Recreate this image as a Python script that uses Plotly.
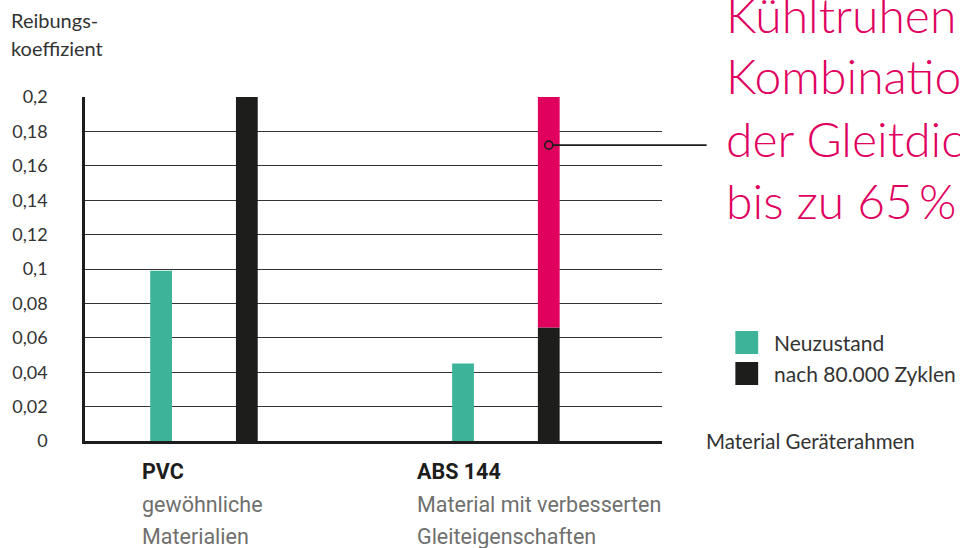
import plotly.graph_objects as go

categories = ["PVC", "ABS 144"]
neuzustand = [0.099, 0.045]
nach_zyklen = [0.2, 0.066]
reduktion = [0, 0.134]
marker_value = 0.172

y_ticks = [0, 0.02, 0.04, 0.06, 0.08, 0.1, 0.12, 0.14, 0.16, 0.18, 0.2]
y_tick_text = ["0", "0,02", "0,04", "0,06", "0,08", "0,1", "0,12", "0,14", "0,16", "0,18", "0,2"]

sub_labels = [["gewöhnliche", "Materialien"], ["Material mit verbesserten", "Gleiteigenschaften"]]
callout_lines = ["Kühltruhen", "Kombination", "der Gleitdichtung", "bis zu 65\u2009%"]
legend_names = ["Neuzustand", "nach 80.000 Zyklen"]

TEAL = "#3DB49A"
BLACK = "#1D1D1B"
MAGENTA = "#E0005E"
FONT = "Lato, 'Open Sans', sans-serif"
NARROW = "'Liberation Sans Narrow', 'Roboto', sans-serif"

BARGAP = 0.432
slot = (1 - BARGAP) / 2

fig = go.Figure()
fig.add_trace(go.Bar(x=categories, y=neuzustand, name=legend_names[0], marker_color=TEAL,
                     offsetgroup="a", marker_line_width=0))
fig.add_trace(go.Bar(x=categories, y=nach_zyklen, name=legend_names[1], marker_color=BLACK,
                     offsetgroup="b", marker_line_width=0))
fig.add_trace(go.Bar(x=categories, y=reduktion, base=nach_zyklen, name="Reduktion",
                     marker_color=MAGENTA, offsetgroup="b", marker_line_width=0))

fig.update_layout(
    width=960, height=548,
    margin=dict(l=80, r=298, t=97, b=107),
    paper_bgcolor="white", plot_bgcolor="white",
    barmode="group", bargap=BARGAP, bargroupgap=0.746,
    showlegend=False,
    font=dict(family=FONT, color="#333333", size=17),
)
fig.update_xaxes(range=[-0.394, 1.517], showticklabels=False, showgrid=False,
                 showline=True, linecolor=BLACK, linewidth=3, zeroline=False, ticks="")
fig.update_yaxes(range=[0, 0.2], tickvals=y_ticks, ticktext=y_tick_text,
                 showgrid=True, gridcolor="#333333", gridwidth=1.3,
                 showline=True, linecolor=BLACK, linewidth=2.5, zeroline=False,
                 ticks="", ticklabelstandoff=31,
                 tickfont=dict(family=FONT, size=18, color="#333333"))

# callout line + circle on ABS reduction bar
xb = 1 + slot / 2
fig.add_shape(type="line", xref="paper", yref="y", x0=(552 - 80) / 582, x1=(707 - 80) / 582,
              y0=marker_value, y1=marker_value, line=dict(color=BLACK, width=1.6), layer="above")
fig.add_shape(type="circle", xref="x", yref="y", xsizemode="pixel", ysizemode="pixel",
              xanchor=xb, yanchor=marker_value, x0=-4, x1=4, y0=-4, y1=4,
              line=dict(color=BLACK, width=1.6), fillcolor=MAGENTA, layer="above")

# callout text
for i, line in enumerate(callout_lines):
    y_px = 14 + i * 62
    fig.add_annotation(xref="paper", yref="paper", x=(725 - 80) / 582, y=(441 - y_px) / 344,
                       text=line, showarrow=False, xanchor="left", yanchor="middle",
                       font=dict(family=FONT, size=48, color=MAGENTA, weight=300))

# y axis title
for text, y_px in [("Reibungs-", 20), ("koeffizient", 48)]:
    fig.add_annotation(xref="paper", yref="paper", x=(3 - 80) / 582, y=(441 - y_px) / 344,
                       text=text, showarrow=False, xanchor="left", yanchor="middle",
                       font=dict(family=FONT, size=20, color="#333333"))

# legend
for i, (name, col) in enumerate(zip(legend_names, [TEAL, BLACK])):
    top = 331 + i * 31
    fig.add_shape(type="rect", xref="paper", yref="paper",
                  x0=(736 - 80) / 582, x1=(759 - 80) / 582,
                  y0=(441 - top) / 344, y1=(441 - top - 23) / 344,
                  fillcolor=col, line_width=0)
    fig.add_annotation(xref="paper", yref="paper", x=(773 - 80) / 582, y=(441 - top - 11) / 344,
                       text=name, showarrow=False, xanchor="left", yanchor="middle",
                       font=dict(family=FONT, size=21, color="#333333"))

fig.add_annotation(xref="paper", yref="paper", x=(704 - 80) / 582, y=(441 - 441) / 344,
                   text="Material Geräterahmen", showarrow=False, xanchor="left", yanchor="middle",
                   font=dict(family=FONT, size=20.5, color="#333333"))

# category labels
for cat, subs, x_px in zip(categories, sub_labels, [135, 413]):
    xp = (x_px - 80) / 582
    fig.add_annotation(xref="paper", yref="paper", x=xp, y=(441 - 471) / 344,
                       text="<b>" + cat + "</b>", showarrow=False, xanchor="left", yanchor="middle",
                       font=dict(family=NARROW, size=21.5, color=BLACK))
    for j, s in enumerate(subs):
        fig.add_annotation(xref="paper", yref="paper", x=xp, y=(441 - 505 - j * 31) / 344,
                           text=s, showarrow=False, xanchor="left", yanchor="middle",
                           font=dict(family=NARROW, size=21.5, color="#6F6F6E"))

fig.write_html("out.html", config={"displayModeBar": False},
               post_script="document.body.style.margin='0';")
